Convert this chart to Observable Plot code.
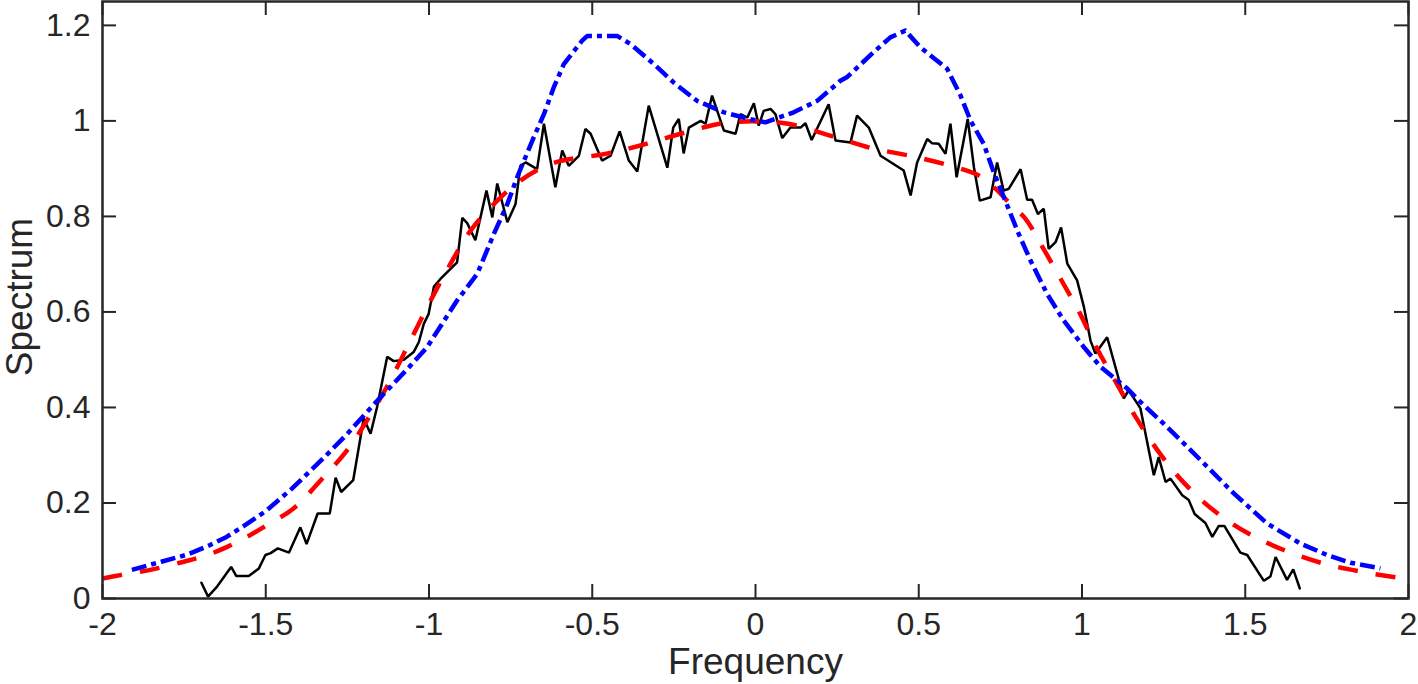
<!DOCTYPE html>
<html><head><meta charset="utf-8">
<script src="https://cdn.jsdelivr.net/npm/d3@7"></script>
<script src="https://cdn.jsdelivr.net/npm/@observablehq/plot@0.6"></script>
<style>html,body{margin:0;padding:0;background:#fff;overflow:hidden}</style>
</head><body><div id="chart"></div>
<script>
const xTicks = [-2, -1.5, -1, -0.5, 0, 0.5, 1, 1.5, 2];
const yTicks = [0, 0.2, 0.4, 0.6, 0.8, 1, 1.2];
const xLabel = "Frequency";
const yLabel = "Spectrum";

// noisy measured spectrum (black)
const blackX = [-1.697,-1.677,-1.649,-1.606,-1.590,-1.552,-1.521,-1.501,-1.485,-1.463,-1.429,-1.394,-1.375,-1.341,-1.304,-1.286,-1.269,-1.232,-1.200,-1.179,-1.159,-1.128,-1.108,-1.077,-1.047,-1.031,-1.016,-1.001,-0.985,-0.965,-0.914,-0.898,-0.883,-0.858,-0.824,-0.806,-0.791,-0.760,-0.735,-0.720,-0.704,-0.669,-0.648,-0.613,-0.592,-0.572,-0.541,-0.521,-0.505,-0.470,-0.444,-0.416,-0.388,-0.362,-0.327,-0.270,-0.252,-0.235,-0.220,-0.204,-0.168,-0.153,-0.133,-0.097,-0.061,-0.046,-0.025,-0.005,0.010,0.025,0.046,0.061,0.082,0.107,0.138,0.153,0.172,0.224,0.245,0.291,0.311,0.347,0.383,0.454,0.475,0.495,0.526,0.541,0.561,0.582,0.597,0.616,0.650,0.669,0.687,0.720,0.740,0.760,0.776,0.812,0.832,0.847,0.865,0.883,0.898,0.919,0.936,0.955,0.985,1.006,1.026,1.041,1.077,1.108,1.128,1.143,1.179,1.220,1.235,1.256,1.271,1.307,1.327,1.345,1.378,1.399,1.419,1.436,1.485,1.506,1.557,1.577,1.593,1.628,1.647,1.667];
const blackY = [0.033,0.004,0.025,0.066,0.047,0.047,0.063,0.091,0.095,0.105,0.096,0.149,0.114,0.178,0.178,0.253,0.223,0.248,0.377,0.345,0.401,0.506,0.497,0.500,0.516,0.537,0.575,0.596,0.653,0.669,0.704,0.797,0.786,0.750,0.854,0.798,0.869,0.788,0.826,0.906,0.913,0.899,0.994,0.861,0.938,0.906,0.927,0.983,0.973,0.917,0.927,0.978,0.917,0.894,1.032,0.902,0.986,1.004,0.932,0.986,1.000,0.994,1.053,0.980,0.973,1.014,1.007,1.037,0.990,1.021,1.025,1.014,0.964,0.986,0.986,0.995,0.960,1.035,0.959,0.955,1.011,0.986,0.927,0.896,0.844,0.913,0.962,0.953,0.952,0.931,0.994,0.882,1.004,0.903,0.833,0.840,0.913,0.854,0.858,0.899,0.835,0.835,0.805,0.816,0.732,0.746,0.777,0.701,0.666,0.610,0.540,0.513,0.547,0.471,0.419,0.436,0.398,0.258,0.296,0.244,0.251,0.216,0.206,0.177,0.158,0.129,0.152,0.152,0.096,0.091,0.037,0.046,0.087,0.039,0.061,0.021];

// smooth fit (red dashed)
const redX = [-2.0,-1.945,-1.853,-1.751,-1.679,-1.618,-1.557,-1.496,-1.414,-1.322,-1.251,-1.179,-1.118,-1.057,-0.995,-0.934,-0.873,-0.801,-0.720,-0.618,-0.46,-0.35,-0.23,-0.10,0.0,0.10,0.24,0.35,0.50,0.633,0.694,0.735,0.781,0.827,0.873,0.934,0.992,1.047,1.109,1.167,1.237,1.314,1.406,1.510,1.620,1.736,1.856,1.975,2.0];
const redY = [0.042,0.049,0.060,0.077,0.091,0.108,0.129,0.154,0.189,0.255,0.310,0.385,0.457,0.540,0.624,0.701,0.770,0.826,0.875,0.912,0.931,0.949,0.973,0.995,0.999,0.994,0.967,0.944,0.923,0.899,0.882,0.858,0.826,0.795,0.743,0.670,0.599,0.522,0.447,0.377,0.305,0.241,0.183,0.136,0.101,0.074,0.056,0.043,0.041];

// model spectrum (blue dash-dot)
const blueX = [-1.91,-1.82,-1.74,-1.67,-1.62,-1.56,-1.50,-1.42,-1.32,-1.25,-1.16,-1.118,-1.06,-1.006,-0.96,-0.914,-0.852,-0.801,-0.760,-0.730,-0.679,-0.648,-0.618,-0.587,-0.531,-0.515,-0.424,-0.383,-0.311,-0.250,-0.179,-0.097,-0.025,0.03,0.117,0.189,0.26,0.281,0.362,0.413,0.459,0.505,0.587,0.628,0.659,0.699,0.730,0.761,0.802,0.842,0.893,0.944,1.006,1.057,1.138,1.169,1.261,1.363,1.465,1.567,1.669,1.751,1.822,1.914];
const blueY = [0.060,0.077,0.092,0.112,0.129,0.155,0.183,0.230,0.296,0.345,0.413,0.443,0.485,0.526,0.575,0.624,0.680,0.764,0.826,0.882,0.966,1.014,1.070,1.119,1.168,1.178,1.178,1.161,1.119,1.080,1.042,1.018,1.005,0.997,1.018,1.042,1.084,1.092,1.144,1.175,1.189,1.154,1.109,1.053,1.000,0.952,0.892,0.840,0.770,0.708,0.638,0.582,0.526,0.485,0.440,0.418,0.359,0.290,0.220,0.157,0.115,0.091,0.075,0.063];

const rows = (xs, ys) => xs.map((x, i) => ({x, y: ys[i]}));
const black = rows(blackX, blackY);
const red = rows(redX, redY);
const blue = rows(blueX, blueY);

const W = 1418, H = 684, mL = 102, mR = 10, mT = 1, mB = 86;
const iw = W - mL - mR, ih = H - mT - mB;
const tickLen = 14;
const ink = "#262626";

const chart = Plot.plot({
  width: W, height: H,
  marginLeft: mL, marginRight: mR, marginTop: mT, marginBottom: mB,
  x: {domain: [-2, 2]},
  y: {domain: [0, 1.25]},
  style: {fontFamily: "'Liberation Sans', Arial, Helvetica, sans-serif", fontSize: "32px", color: ink, background: "#fff"},
  marks: [
    Plot.line(black, {x: "x", y: "y", stroke: "#000", strokeWidth: 2.5, strokeLinejoin: "miter"}),
    Plot.line(red, {x: "x", y: "y", stroke: "#ff0000", strokeWidth: 4.5, strokeDasharray: "20,18", strokeLinecap: "butt", curve: "catmull-rom"}),
    Plot.line(blue, {x: "x", y: "y", stroke: "#0000ff", strokeWidth: 4.5, strokeDasharray: "15,5,5,5", strokeLinecap: "butt"}),
    Plot.ruleX(xTicks, {x: d => d, stroke: ink, strokeWidth: 2, insetTop: ih - tickLen}),
    Plot.ruleX(xTicks, {x: d => d, stroke: ink, strokeWidth: 2, insetBottom: ih - tickLen}),
    Plot.ruleY(yTicks, {y: d => d, stroke: ink, strokeWidth: 2, insetRight: iw - tickLen}),
    Plot.ruleY(yTicks, {y: d => d, stroke: ink, strokeWidth: 2, insetLeft: iw - tickLen}),
    Plot.frame({stroke: ink, strokeWidth: 2.5}),
    Plot.axisX({ticks: xTicks, tickSize: 0, tickPadding: 14, tickFormat: d => String(d), label: null}),
    Plot.axisY({ticks: yTicks, tickSize: 0, tickPadding: 12, tickFormat: d => String(d), label: null}),
    Plot.text([xLabel], {text: d => d, frameAnchor: "bottom", textAnchor: "middle", lineAnchor: "middle", dy: 64, fontSize: 37, fill: ink}),
    Plot.text([yLabel], {text: d => d, frameAnchor: "left", textAnchor: "middle", lineAnchor: "middle", rotate: -90, dx: -82, dy: -3, fontSize: 37, fill: ink})
  ]
});
document.getElementById("chart").appendChild(chart);
</script>
</body></html>
